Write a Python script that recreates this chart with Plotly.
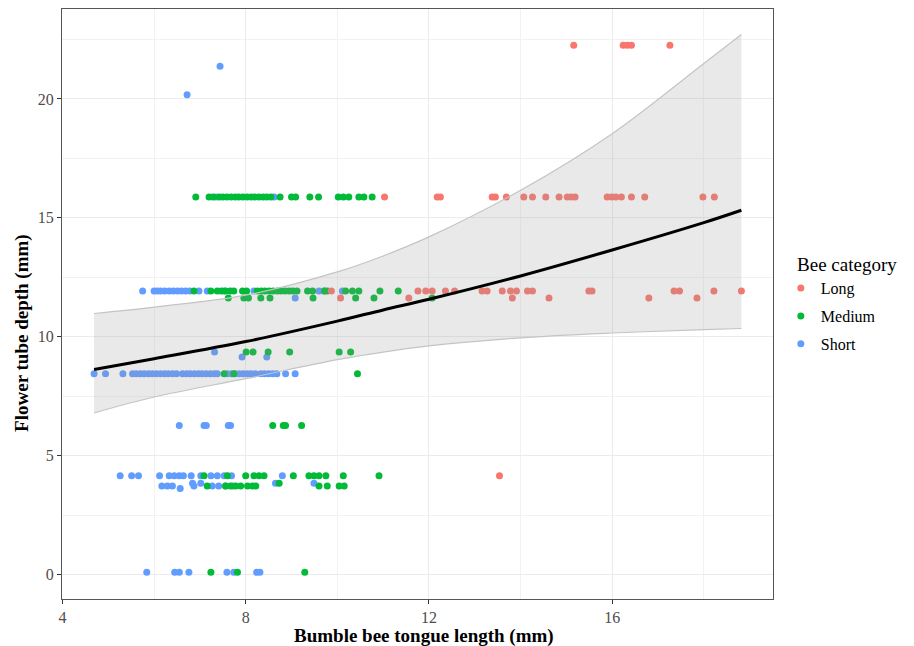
import plotly.graph_objects as go

# ---------------- data ----------------
categories = ["Long", "Medium", "Short"]
colors = {"Long": "#F8766D", "Medium": "#00BA38", "Short": "#619CFF"}

# Short-tongued bees: flower depth levels and tongue lengths at each level
short_levels = [0.1, 3.62, 3.73, 3.85, 4.16, 6.27, 8.45, 9.15, 9.36, 11.63, 11.93, 15.88, 20.18, 21.37]
short_x = [
    [5.84, 6.45, 6.55, 6.76, 7.59, 7.74, 8.24, 8.31],
    [6.57],
    [6.17, 6.29, 6.40, 6.87, 7.27, 7.41, 7.56, 7.72],
    [6.84, 7.02, 8.65, 9.49],
    [5.26, 5.51, 5.66, 6.12, 6.33, 6.44, 6.55, 6.64, 6.81, 7.02, 7.24, 7.38, 7.53, 7.69, 8.80],
    [6.55, 7.09, 7.14, 7.62, 7.67],
    [4.69, 4.94, 5.32, 5.53, 5.61, 5.70, 5.79, 5.88, 5.96, 6.05, 6.14, 6.23, 6.31, 6.40, 6.49,
     6.62, 6.71, 6.79, 6.88, 6.97, 7.05, 7.14, 7.23, 7.32, 7.38, 7.60, 7.69, 7.77, 7.86, 7.95,
     8.04, 8.12, 8.21, 8.33, 8.41, 8.50, 8.59, 8.68, 8.87, 9.08],
    [7.92, 8.46],
    [7.32],
    [9.08],
    [5.75, 6.00, 6.07, 6.14, 6.23, 6.33, 6.42, 6.51, 6.60, 6.69, 6.78, 6.98, 7.16, 7.53, 8.18,
     9.60, 9.71, 10.11],
    [7.35, 8.62],
    [6.72],
    [7.44],
]

medium_levels = [0.1, 3.73, 3.85, 4.16, 6.27, 8.45, 9.36, 11.63, 11.93, 15.88]
medium_x = [
    [7.24, 7.82, 9.29],
    [7.16, 7.56, 7.67, 7.78, 7.89, 8.04, 8.15, 8.22, 9.60, 9.78, 10.04, 10.15],
    [8.73],
    [7.09, 7.60, 8.00, 8.18, 8.29, 8.40, 9.04, 9.38, 9.49, 9.60, 9.75, 10.13, 10.91],
    [8.59, 8.82, 8.87, 9.22],
    [7.53, 7.74, 10.44],
    [8.01, 8.16, 8.49, 8.96, 10.04, 10.29],
    [7.62, 7.96, 8.06, 8.33, 8.53, 9.47, 10.40, 10.80, 12.07],
    [6.87, 7.24, 7.38, 7.47, 7.56, 7.66, 7.74, 7.93, 8.02, 8.25, 8.34, 8.42, 8.51, 8.60, 8.69,
     8.77, 8.86, 8.95, 9.03, 9.12, 9.35, 9.46, 9.72, 9.78, 10.18, 10.33, 10.47, 10.93, 11.33],
    [6.91, 7.20, 7.29, 7.42, 7.50, 7.59, 7.68, 7.77, 7.85, 7.94, 8.03, 8.12, 8.20, 8.29, 8.38,
     8.46, 8.55, 8.75, 9.00, 9.09, 9.40, 9.59, 10.02, 10.13, 10.25, 10.47, 10.58, 10.76],
]

long_levels = [4.16, 11.63, 11.93, 15.88, 22.26]
long_x = [
    [13.54],
    [10.07, 11.56, 13.82, 14.62, 16.80, 17.85],
    [9.87, 11.76, 11.93, 12.07, 12.36, 12.56, 13.16, 13.27, 13.60, 13.78, 13.91, 14.15, 14.26,
     15.49, 15.56, 17.35, 17.47, 18.22, 18.82],
    [11.03, 12.18, 12.25, 13.38, 13.45, 13.69, 14.07, 14.26, 14.55, 14.84, 15.02, 15.11, 15.19,
     15.89, 15.99, 16.08, 16.20, 16.42, 16.71, 17.98, 18.23],
    [15.16, 16.24, 16.33, 16.42, 17.26],
]

# fitted trend and confidence band (read at a few tongue lengths)
fit_x = [4.69, 6.0, 8.0, 10.0, 11.0, 12.0, 14.0, 16.0, 18.0, 18.82]
fit_y = [8.63, 9.08, 9.80, 10.66, 11.13, 11.58, 12.56, 13.65, 14.80, 15.32]
band_lower = [6.80, 7.47, 8.24, 9.04, 9.36, 9.62, 9.96, 10.16, 10.30, 10.35]
band_upper = [10.98, 11.25, 11.75, 12.73, 13.40, 14.20, 16.16, 18.54, 21.49, 22.71]

x_ticks = [4, 8, 12, 16]
y_ticks = [0, 5, 10, 15, 20]

# ---------------- figure ----------------
def flatten(levels, xs):
    px, py = [], []
    for lv, row in zip(levels, xs):
        for v in row:
            px.append(v)
            py.append(lv)
    return px, py

series = {
    "Long": flatten(long_levels, long_x),
    "Medium": flatten(medium_levels, medium_x),
    "Short": flatten(short_levels, short_x),
}

fig = go.Figure()
draw_order = ["Short", "Medium", "Long"]
for cat in draw_order:
    px, py = series[cat]
    fig.add_trace(go.Scatter(
        x=px, y=py, mode="markers", name=cat,
        legendrank=categories.index(cat) + 1, legendgroup=cat,
        marker=dict(color=colors[cat], size=7, line=dict(width=0)),
        hoverinfo="x+y+name",
    ))

fig.add_trace(go.Scatter(
    x=fit_x, y=band_lower, mode="lines", line=dict(color="#C4C4C4", width=1.2, shape="spline"),
    showlegend=False, hoverinfo="skip"))
fig.add_trace(go.Scatter(
    x=fit_x, y=band_upper, mode="lines", line=dict(color="#C4C4C4", width=1.2, shape="spline"),
    fill="tonexty", fillcolor="rgba(153,153,153,0.22)", showlegend=False, hoverinfo="skip"))
fig.add_trace(go.Scatter(
    x=fit_x, y=fit_y, mode="lines", line=dict(color="black", width=3, shape="spline"),
    showlegend=False, hoverinfo="skip"))

serif = "Liberation Serif, Times New Roman, serif"
axis_common = dict(
    showline=True, linecolor="#555555", linewidth=1, mirror=True,
    ticks="outside", ticklen=4, tickcolor="#333333", tickwidth=1,
    showgrid=True, gridcolor="#EBEBEB", gridwidth=1.1,
    zeroline=False, automargin=False,
    tickfont=dict(family=serif, size=16, color="#4D4D4D"),
)

# the page body has an 8 px margin, so the figure is made 8 px smaller and margins trimmed
fig.update_layout(
    width=906, height=638,
    margin=dict(l=54, r=141, t=1, b=47),
    paper_bgcolor="white", plot_bgcolor="white",
    font=dict(family=serif, color="black"),
    showlegend=True,
    legend=dict(
        title=dict(text="&nbsp;&nbsp;&nbsp;Bee category", font=dict(family=serif, size=19)),
        font=dict(family=serif, size=16),
        x=1.011, xanchor="left", y=0.5, yanchor="middle",
        itemsizing="trace", tracegroupgap=4, traceorder="grouped",
        bgcolor="rgba(0,0,0,0)",
    ),
    xaxis=dict(
        range=[3.99, 19.51], tickvals=x_ticks,
        minor=dict(dtick=2, tick0=0, showgrid=True, gridcolor="#F2F2F2", gridwidth=0.6, ticks=""),
        **axis_common,
    ),
    yaxis=dict(
        range=[-1.02, 23.78], tickvals=y_ticks,
        minor=dict(dtick=2.5, tick0=0, showgrid=True, gridcolor="#F2F2F2", gridwidth=0.6, ticks=""),
        **axis_common,
    ),
    annotations=[
        dict(text="<b>Bumble bee tongue length (mm)</b>", xref="paper", yref="paper",
             x=0.5098, y=-0.0627, xanchor="center", yanchor="middle", showarrow=False,
             font=dict(family=serif, size=19, color="black")),
        dict(text="<b>Flower tube depth (mm)</b>", xref="paper", yref="paper",
             x=-0.0563, y=0.451, xanchor="center", yanchor="middle", showarrow=False,
             textangle=-90, font=dict(family=serif, size=19, color="black")),
    ],
)

fig.write_html("out.html")
